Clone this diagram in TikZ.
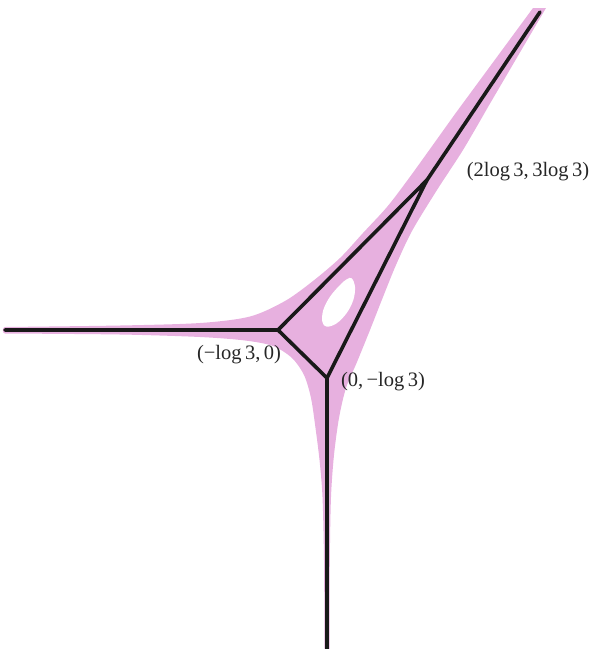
\documentclass[tikz,border=0pt]{standalone}
\usepackage{fontspec}
\setmainfont{Liberation Serif}
\definecolor{amoeba}{RGB}{231,176,223}
\tikzset{
  amoebafill/.style={fill=amoeba},
  tropline/.style={line width=3.6pt, color=black!90, line join=round, line cap=round},
  lab/.style={font=\fontsize{20.5}{24}\selectfont, inner sep=0pt, text=black!85}
}
\begin{document}
\begin{tikzpicture}[x=1pt,y=-1pt]
\useasboundingbox (0,0) rectangle (591,649);
% amoeba
\fill[amoebafill]
  plot[smooth, tension=0.5] coordinates {(5,327) (120,325.5) (200,323) (250,316.5) (285,301) (313,281) (340,258) (363,233) (387,207) (408,179.5) (430,149) (455,114)}
  -- (533,8) -- (546,8) -- (488,107)
  -- plot[smooth, tension=0.5] coordinates {(488,107) (463,150) (437,190) (412,231) (396,265) (383,297) (370,330) (357,362) (346,388) (339,418) (334,455) (331,497) (329.8,560) (329.5,649)}
  -- (324.5,649)
  -- plot[smooth, tension=0.5] coordinates {(324.5,649) (324,560) (322.5,497) (319.5,460) (315.5,428) (311,398) (304,375) (292,358) (273,346) (245,340.5) (200,337) (120,334.5) (5,333.5)}
  .. controls (2,333.5) and (2,327) .. (5,327) -- cycle;
% hole
\fill[white] plot[smooth cycle, tension=0.6] coordinates {(351.7,278.3) (355,287) (353.3,300) (346.7,313) (336.7,323.3) (326.7,326.7) (322.3,321.7) (323.3,310) (330,296.7) (340,285) (346.7,279.3)};
% tropical curve
\coordinate (A) at (278,330);
\coordinate (B) at (327,378);
\coordinate (C) at (427,180);
\coordinate (L) at (5,330);
\coordinate (D) at (327,649);
\coordinate (U) at (540,12);
\draw[tropline] (L) -- (A) -- (B) -- (C) -- (A);
\draw[tropline] (B) -- (D);
\draw[tropline] (C) -- (U);
% labels
\node[lab] (labC) at (528,172) {(2log\,3,\,3log\,3)};
\node[lab] (labA) at (239,355) {(−log\,3,\,0)};
\node[lab] (labB) at (383,382) {(0,\,−log\,3)};
\end{tikzpicture}
\end{document}
